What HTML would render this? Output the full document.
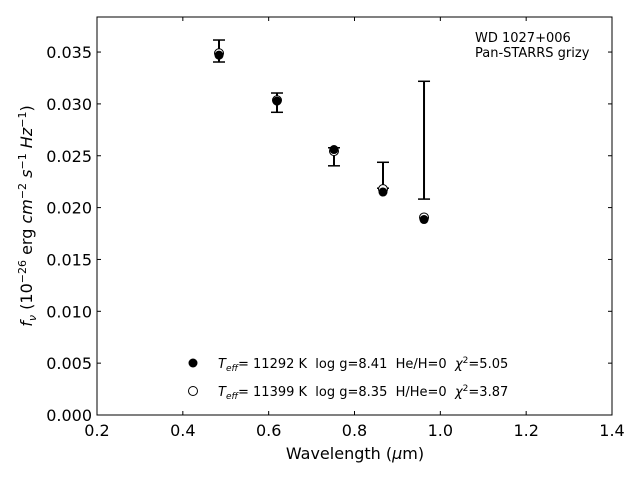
<!DOCTYPE html>
<html><head><meta charset="utf-8"><style>
body{margin:0;background:#fff}
svg{display:block;font-family:"DejaVu Sans","Liberation Sans",sans-serif}
text{white-space:pre}
</style></head><body>
<svg id="c" width="640" height="480" viewBox="0 0 640 480"></svg>
<script>
const wavelengths=[0.4843,0.6194,0.7522,0.8664,0.962];
const fluxModelA=[0.03470,0.03027,0.02560,0.02150,0.01885];
const fluxModelB=[0.03488,0.03035,0.02545,0.02178,0.01905];
const obsFlux=[0.03510,0.03012,0.02490,0.02312,0.02650];
const obsErr=[0.00106,0.00093,0.00087,0.00125,0.00568];
const xTicks=[0.2,0.4,0.6,0.8,1.0,1.2,1.4];
const yTicks=[0,0.005,0.01,0.015,0.02,0.025,0.03,0.035];

const L=97,R=612,T=17,B=415,XMIN=0.2,XMAX=1.4,YMIN=0,YMAX=0.03838;
const xs=v=>L+(v-XMIN)/(XMAX-XMIN)*(R-L);
const ys=v=>B-(v-YMIN)/(YMAX-YMIN)*(B-T);
const svg=document.getElementById('c');
const NS='http://www.w3.org/2000/svg';
function mk(tag,at,parent){const e=document.createElementNS(NS,tag);for(const k in at)e.setAttribute(k,at[k]);(parent||svg).appendChild(e);return e;}

const frame=mk('rect',{x:L,y:T,width:R-L,height:B-T,fill:'none',stroke:'#000','stroke-width':1});



xTicks.forEach(t=>{
  const x=xs(t);
  const g=mk('g',{});
  
  
  mk('line',{x1:x,x2:x,y1:B,y2:B-4,stroke:'#000'},g);
  mk('line',{x1:x,x2:x,y1:T,y2:T+4,stroke:'#000'},g);
  const tx=mk('text',{x:x,y:B+21,'text-anchor':'middle','font-size':16},g);
  tx.textContent=t.toFixed(1);
});
yTicks.forEach(t=>{
  const y=ys(t);
  const g=mk('g',{});
  
  
  mk('line',{x1:L,x2:L+4,y1:y,y2:y,stroke:'#000'},g);
  mk('line',{x1:R,x2:R-4,y1:y,y2:y,stroke:'#000'},g);
  const tx=mk('text',{x:L-5,y:y+6,'text-anchor':'end','font-size':16},g);
  tx.textContent=t.toFixed(3);
});

wavelengths.forEach((w,i)=>{
  const x=xs(w);
  const g=mk('g',{});
  
  
  const y1=ys(obsFlux[i]+obsErr[i]),y2=ys(obsFlux[i]-obsErr[i]);
  mk('line',{x1:x,x2:x,y1:y1,y2:y2,stroke:'#000','stroke-width':2},g);
  mk('line',{x1:x-6,x2:x+6,y1:y1,y2:y1,stroke:'#000','stroke-width':1.5},g);
  mk('line',{x1:x-6,x2:x+6,y1:y2,y2:y2,stroke:'#000','stroke-width':1.5},g);
});
wavelengths.forEach((w,i)=>{
  const o=mk('circle',{cx:xs(w),cy:ys(fluxModelB[i]),r:4.5,fill:'#fff',stroke:'#000','stroke-width':1});
  
  
  const f=mk('circle',{cx:xs(w),cy:ys(fluxModelA[i]),r:4.5,fill:'#000'});
  
  
});
</script>
<svg width="640" height="480" style="position:absolute;left:0;top:0">
<text x="475" y="42" font-size="13">WD 1027+006</text>
<text x="475" y="57" font-size="13">Pan-STARRS grizy</text>
<g>
<circle cx="193" cy="363" r="4.5" fill="#000"/>
<text x="218" y="368" font-size="13"><tspan font-style="italic">T</tspan><tspan font-style="italic" font-size="9" dy="3">eff</tspan><tspan dy="-3">= 11292 K  log g=8.41  He/H=0  </tspan><tspan font-style="italic">χ</tspan><tspan font-size="9" dy="-5">2</tspan><tspan dy="5">=5.05</tspan></text>
<circle cx="193" cy="391" r="4.5" fill="#fff" stroke="#000"/>
<text x="218" y="396" font-size="13"><tspan font-style="italic">T</tspan><tspan font-style="italic" font-size="9" dy="3">eff</tspan><tspan dy="-3">= 11399 K  log g=8.35  H/He=0  </tspan><tspan font-style="italic">χ</tspan><tspan font-size="9" dy="-5">2</tspan><tspan dy="5">=3.87</tspan></text>
</g>
<text x="355" y="459" font-size="16" text-anchor="middle">Wavelength (<tspan font-style="italic">μ</tspan>m)</text>
<text transform="translate(32,216) rotate(-90)" font-size="16" text-anchor="middle"><tspan font-style="italic">f</tspan><tspan font-style="italic" font-size="11" dy="4">ν</tspan><tspan dy="-4"> (10</tspan><tspan font-size="11" dy="-6">−26</tspan><tspan dy="6"> erg </tspan><tspan font-style="italic">cm</tspan><tspan font-size="11" dy="-6">−2</tspan><tspan dy="6"> </tspan><tspan font-style="italic">s</tspan><tspan font-size="11" dy="-6">−1</tspan><tspan dy="6"> </tspan><tspan font-style="italic">Hz</tspan><tspan font-size="11" dy="-6">−1</tspan><tspan dy="6">)</tspan></text>
</svg>
</body></html>
